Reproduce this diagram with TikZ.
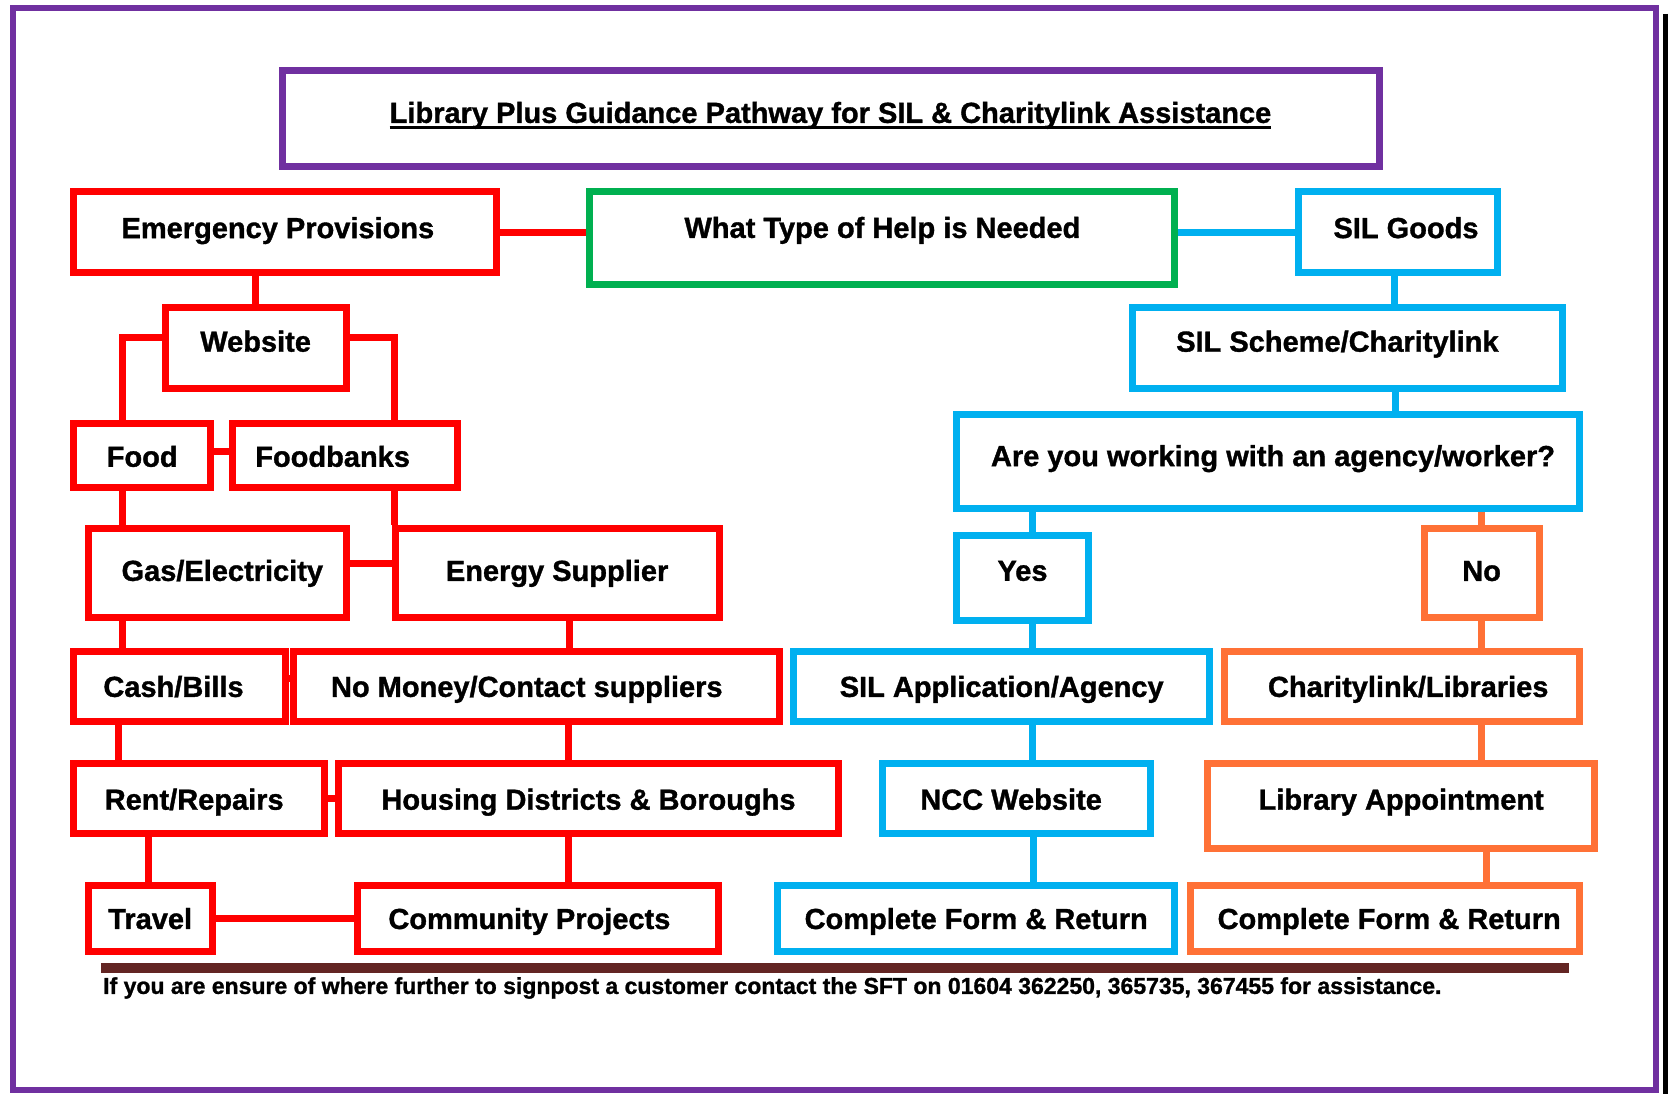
\documentclass[tikz,border=0pt]{standalone}
\usepackage{fontspec}
\setmainfont{Liberation Sans}[BoldFeatures={FakeBold=1.2}]
\usepackage{tikz}
\definecolor{pathred}{HTML}{FF0000}
\definecolor{pathgreen}{HTML}{00B050}
\definecolor{pathblue}{HTML}{00B0F0}
\definecolor{pathorange}{HTML}{FF7136}
\definecolor{pathpurple}{HTML}{7030A0}
\definecolor{pathbrown}{HTML}{632523}
\newcommand{\ulined}[1]{\setbox0\hbox{#1}\rlap{\rule[-6pt]{\wd0}{3pt}}\box0}

\begin{document}
\begin{tikzpicture}[x=1pt,y=-1pt,
    box/.style={draw,line width=7pt,inner sep=0pt,text height=21.75pt,text depth=0pt,
      font=\fontsize{29}{34}\selectfont\bfseries},
    redbox/.style={box,draw=pathred},
    greenbox/.style={box,draw=pathgreen},
    bluebox/.style={box,draw=pathblue},
    orangebox/.style={box,draw=pathorange},
    redline/.style={draw=pathred,line width=7pt},
    greenline/.style={draw=pathgreen,line width=7pt},
    blueline/.style={draw=pathblue,line width=7pt},
    orangeline/.style={draw=pathorange,line width=7pt}]
    \useasboundingbox (0,0) rectangle (1670,1094);
    \draw[pathpurple,line width=6pt] (13,8.5) rectangle (1656,1090);
    \draw[black,line width=5pt] (1665,14) -- (1665,1094);
    \node[box,draw=pathpurple,minimum width=1097pt,minimum height=96pt,text depth=14pt] (title) at (830.5,119) {\ulined{Library Plus Guidance Pathway for SIL \& Charitylink Assistance}};
    % left column
    \node[redbox,minimum width=423pt,minimum height=81pt,text depth=10pt] (EP) at (284.9,232.2) {\hspace*{-14pt}Emergency Provisions};
    \node[greenbox,minimum width=585pt,minimum height=93pt,text depth=22pt] (WT) at (882.4,238) {What Type of Help is Needed};
    \node[bluebox,minimum width=199pt,minimum height=81pt,text depth=10pt] (SILG) at (1398,232.2) {\hspace*{16pt}SIL Goods};
    \node[redbox,minimum width=181pt,minimum height=81pt,text depth=15pt] (Website) at (255.6,348.3) {Website};
    \node[redbox,minimum width=137pt,minimum height=64pt] (Food) at (142.2,455.9) {Food};
    \node[redbox,minimum width=225pt,minimum height=64pt] (Foodbanks) at (344.6,455.9) {\hspace*{-24pt}Foodbanks};
    \node[redbox,minimum width=258pt,minimum height=89.5pt,text depth=6pt] (Gas) at (217.3,573) {\hspace*{10pt}Gas/Electricity};
    \node[redbox,minimum width=324pt,minimum height=89.5pt,text depth=6pt] (Energy) at (557.1,573) {Energy Supplier};
    \node[redbox,minimum width=212pt,minimum height=70pt] (Cash) at (179.5,686) {\hspace*{-12pt}Cash/Bills};
    \node[redbox,minimum width=486pt,minimum height=70pt] (NoMoney) at (536.8,686) {\hspace*{-20pt}No Money/Contact suppliers};
    \node[redbox,minimum width=251pt,minimum height=70pt] (Rent) at (199.2,798.8) {\hspace*{-10pt}Rent/Repairs};
    \node[redbox,minimum width=500pt,minimum height=70pt] (Housing) at (588.5,798.8) {Housing Districts \& Boroughs};
    \node[redbox,minimum width=124pt,minimum height=66pt] (Travel) at (150.2,918.1) {Travel};
    \node[redbox,minimum width=361pt,minimum height=66pt] (Community) at (538.4,918.1) {\hspace*{-18pt}Community Projects};
    % right column
    \node[bluebox,minimum width=430pt,minimum height=81pt,text depth=15pt] (Scheme) at (1347.4,348.3) {\hspace*{-20pt}SIL Scheme/Charitylink};
    \node[bluebox,minimum width=623pt,minimum height=94pt,text depth=12pt] (Agency) at (1268,461.2) {\hspace*{10pt}Are you working with an agency/worker?};
    \node[bluebox,minimum width=132pt,minimum height=85pt,text depth=17pt] (Yes) at (1022.5,578.4) {Yes};
    \node[orangebox,minimum width=115pt,minimum height=89.5pt,text depth=6pt] (No) at (1481.6,573) {No};
    \node[bluebox,minimum width=416.5pt,minimum height=70pt] (SILApp) at (1001.7,686) {SIL Application/Agency};
    \node[orangebox,minimum width=355pt,minimum height=70pt] (Charity) at (1402.2,686) {\hspace*{12pt}Charitylink/Libraries};
    \node[bluebox,minimum width=268pt,minimum height=70pt] (NCC) at (1016.1,798.8) {\hspace*{-10pt}NCC Website};
    \node[orangebox,minimum width=387pt,minimum height=85pt,text depth=15pt] (LibApp) at (1401.2,806.3) {Library Appointment};
    \node[bluebox,minimum width=397pt,minimum height=66pt] (CFblue) at (976.2,918.1) {Complete Form \& Return};
    \node[orangebox,minimum width=389pt,minimum height=66pt] (CForange) at (1385.2,918.1) {\hspace*{8pt}Complete Form \& Return};
    % footer
    \draw[pathbrown,line width=10pt] (101,968) -- (1569,968);
    \node[anchor=west,inner sep=0pt,font=\fontsize{23}{27}\selectfont\bfseries] (note) at (103,988) {If you are ensure of where further to signpost a customer contact the SFT on 01604 362250, 365735, 367455 for assistance.};
    % connectors
    \draw[redline] (EP.east) -- (EP.east -| WT.west);
    \draw[blueline] (SILG.west) -- (SILG.west -| WT.east);
    \draw[redline] (Website.north) -- (Website.north |- EP.south);
    \draw[redline] ([yshift=11pt]Website.west) -| ([xshift=-20pt]Food.north);
    \draw[redline] ([yshift=11pt]Website.east) -| ([xshift=50pt]Foodbanks.north);
    \draw[redline] ([yshift=4pt]Food.east) -- ([yshift=4pt]Food.east -| Foodbanks.west);
    \draw[redline] ([xshift=-20pt]Food.south) -- ([xshift=-20pt]Food.south |- Gas.north);
    \draw[redline] ([xshift=50pt]Foodbanks.south) -- ([xshift=50pt]Foodbanks.south |- Energy.north);
    \draw[redline] ([yshift=10pt]Gas.east) -- ([yshift=10pt]Gas.east -| Energy.west);
    \draw[redline] ([xshift=-95pt]Gas.south) -- ([xshift=-95pt]Gas.south |- Cash.north);
    \draw[redline] ([yshift=8pt]Cash.east) -- ([yshift=8pt]Cash.east -| NoMoney.west);
    \draw[redline] ([xshift=12pt]Energy.south) -- ([xshift=12pt]Energy.south |- NoMoney.north);
    \draw[redline] ([xshift=-61pt]Cash.south) -- ([xshift=-61pt]Cash.south |- Rent.north);
    \draw[redline] ([xshift=32pt]NoMoney.south) -- ([xshift=32pt]NoMoney.south |- Housing.north);
    \draw[redline] (Rent.east) -- (Rent.east -| Housing.west);
    \draw[redline] ([xshift=-51pt]Rent.south) -- ([xshift=-51pt]Rent.south |- Travel.north);
    \draw[redline] ([xshift=-20pt]Housing.south) -- ([xshift=-20pt]Housing.south |- Community.north);
    \draw[redline] (Travel.east) -- (Travel.east -| Community.west);
    \draw[blueline] ([xshift=-4pt]SILG.south) -- ([xshift=-4pt]SILG.south |- Scheme.north);
    \draw[blueline] ([xshift=48pt]Scheme.south) -- ([xshift=48pt]Scheme.south |- Agency.north);
    \draw[blueline] ([xshift=10pt]Yes.north) -- ([xshift=10pt]Yes.north |- Agency.south);
    \draw[orangeline] (No.north) -- ++(0,-13);
    \draw[blueline] ([xshift=10pt]Yes.south) -- ([xshift=10pt]Yes.south |- SILApp.north);
    \draw[orangeline] (No.south) -- (No.south |- Charity.north);
    \draw[blueline] ([xshift=31pt]SILApp.south) -- ([xshift=31pt]SILApp.south |- NCC.north);
    \draw[orangeline] ([xshift=79pt]Charity.south) -- ([xshift=79pt]Charity.south |- LibApp.north);
    \draw[blueline] ([xshift=17pt]NCC.south) -- ([xshift=17pt]NCC.south |- CFblue.north);
    \draw[orangeline] ([xshift=85pt]LibApp.south) -- ([xshift=85pt]LibApp.south |- CForange.north);
\end{tikzpicture}
\end{document}
